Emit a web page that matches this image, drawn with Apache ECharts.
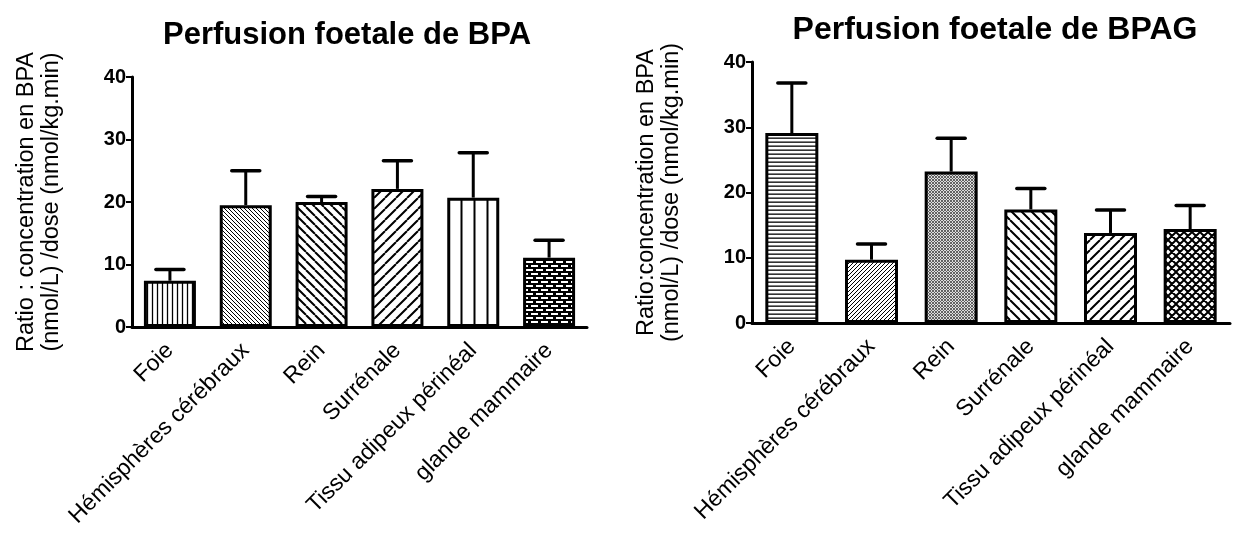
<!DOCTYPE html>
<html>
<head>
<meta charset="utf-8">
<script src="https://cdn.jsdelivr.net/npm/echarts@6/dist/echarts.min.js"></script>
<style>
html,body{margin:0;padding:0;background:#fff;}
#chart{width:1238px;height:533px;}
</style>
</head>
<body>
<div id="chart"></div>
<script>
const categories = ['Foie', 'Hémisphères cérébraux', 'Rein', 'Surrénale', 'Tissu adipeux périnéal', 'glande mammaire'];
const bpaMean = [7.4, 19.5, 20.0, 22.1, 20.7, 11.1];
const bpaErr = [1.8, 5.5, 0.9, 4.5, 7.2, 2.8];
const bpagMean = [29.1, 9.7, 23.2, 17.4, 13.8, 14.4];
const bpagErr = [7.7, 2.4, 5.1, 3.2, 3.5, 3.6];
const yTickValues = [0, 10, 20, 30, 40];
const titleLeft = 'Perfusion foetale de BPA';
const titleRight = 'Perfusion foetale de BPAG';
const yNameLeft = 'Ratio : concentration en BPA\n(nmol/L) /dose (nmol/kg.min)';
const yNameRight = 'Ratio:concentration en BPA\n(nmol/L) /dose (nmol/kg.min)';

const FONT = '"Liberation Sans", Arial, Helvetica, sans-serif';

function tile(w, h, draw, bg) {
  const c = document.createElement('canvas');
  c.width = w; c.height = h;
  const g = c.getContext('2d');
  g.fillStyle = bg || '#fff';
  g.fillRect(0, 0, w, h);
  g.strokeStyle = '#000';
  draw(g, w, h);
  return { image: c, repeat: 'repeat' };
}
function vertical(s, lw) {
  return tile(s, s, (g) => { g.lineWidth = lw; g.beginPath(); g.moveTo(s / 2, 0); g.lineTo(s / 2, s); g.stroke(); });
}
function horizontal(s, lw) {
  return tile(s, s, (g) => { g.lineWidth = lw; g.beginPath(); g.moveTo(0, s / 2); g.lineTo(s, s / 2); g.stroke(); });
}
function diagUp(s, lw, col) {
  return tile(s, s, (g) => {
    g.lineWidth = lw; if (col) g.strokeStyle = col;
    g.beginPath();
    for (let k = -1; k <= 1; k++) { g.moveTo(k * s, s); g.lineTo(k * s + s, 0); }
    g.stroke();
  });
}
function diagDown(s, lw) {
  return tile(s, s, (g) => {
    g.lineWidth = lw; g.beginPath();
    for (let k = -1; k <= 1; k++) { g.moveTo(k * s, 0); g.lineTo(k * s + s, s); }
    g.stroke();
  });
}
function cross(s, lw, col, bg) {
  return tile(s, s, (g) => {
    g.lineWidth = lw; if (col) g.strokeStyle = col;
    g.beginPath();
    for (let k = -1; k <= 1; k++) {
      g.moveTo(k * s, s); g.lineTo(k * s + s, 0);
      g.moveTo(k * s, 0); g.lineTo(k * s + s, s);
    }
    g.stroke();
  }, bg);
}
function brick() {
  return tile(10, 8, (g) => {
    g.fillStyle = '#fff';
    g.fillRect(1, 1, 7, 2);
    g.fillRect(6, 5, 4, 2);
    g.fillRect(0, 5, 3, 2);
  }, '#000');
}

const leftPatterns = [vertical(5, 1.3), diagDown(4, 1), diagDown(9, 2), diagUp(11, 2), vertical(13, 2), brick()];
const rightPatterns = [horizontal(4.3, 1.3), diagUp(4, 1), cross(3, 0.9, '#555', '#ddd'), diagDown(10, 2), diagUp(10, 2), cross(8, 2)];

function errRender(params, api) {
  const i = api.value(0), m = api.value(1), e = api.value(2);
  const p0 = api.coord([i, m]);
  const p1 = api.coord([i, m + e]);
  const hw = 14;
  return {
    type: 'group',
    children: [
      { type: 'line', shape: { x1: p0[0], y1: p0[1], x2: p1[0], y2: p1[1] }, style: { stroke: '#000', lineWidth: 3 } },
      { type: 'line', shape: { x1: p1[0] - hw, y1: p1[1], x2: p1[0] + hw, y2: p1[1] }, style: { stroke: '#000', lineWidth: 3.5, lineCap: 'round' } }
    ]
  };
}

function xAxisDef(idx) {
  return {
    type: 'category', gridIndex: idx, data: categories,
    axisLine: { lineStyle: { color: '#000', width: 3 } },
    axisTick: { alignWithLabel: true, length: 7, lineStyle: { color: '#000', width: 2 } },
    axisLabel: { interval: 0, rotate: 45, margin: 20, color: '#000', fontSize: 23, fontFamily: FONT }
  };
}
function yAxisDef(idx, name) {
  return {
    type: 'value', gridIndex: idx, min: yTickValues[0], max: yTickValues[yTickValues.length - 1], interval: 10,
    name: name, nameLocation: 'middle', nameGap: 68, nameRotate: 90,
    nameTextStyle: { color: '#000', fontSize: 23.5, lineHeight: 25, fontFamily: FONT },
    splitLine: { show: false },
    axisLine: { show: true, lineStyle: { color: '#000', width: 3 } },
    axisTick: { show: true, length: 6, lineStyle: { color: '#000', width: 2 } },
    axisLabel: { color: '#000', fontSize: 20, fontWeight: 'bold', margin: 6, fontFamily: FONT }
  };
}

const chart = echarts.init(document.getElementById('chart'), null, { renderer: 'canvas' });
chart.setOption({
  animation: false,
  backgroundColor: '#fff',
  title: [
    { text: titleLeft, left: 342, top: 15, textAlign: 'center', textStyle: { fontSize: 31, fontWeight: 'bold', color: '#000', fontFamily: FONT } },
    { text: titleRight, left: 990, top: 9, textAlign: 'center', textStyle: { fontSize: 32, fontWeight: 'bold', color: '#000', fontFamily: FONT } }
  ],
  grid: [
    { left: 132, top: 77, width: 455, height: 250 },
    { left: 752, top: 62, width: 478, height: 261 }
  ],
  xAxis: [xAxisDef(0), xAxisDef(1)],
  yAxis: [yAxisDef(0, yNameLeft), yAxisDef(1, yNameRight)],
  series: [
    {
      type: 'bar', xAxisIndex: 0, yAxisIndex: 0, barWidth: 52,
      data: bpaMean.map((v, i) => ({ value: v, itemStyle: { color: leftPatterns[i] } })),
      itemStyle: { borderColor: '#000', borderWidth: 3 }
    },
    {
      type: 'custom', xAxisIndex: 0, yAxisIndex: 0, renderItem: errRender, z: 5,
      data: bpaMean.map((v, i) => [i, v, bpaErr[i]]), encode: { x: 0, y: 1 }
    },
    {
      type: 'bar', xAxisIndex: 1, yAxisIndex: 1, barWidth: 53,
      data: bpagMean.map((v, i) => ({ value: v, itemStyle: { color: rightPatterns[i] } })),
      itemStyle: { borderColor: '#000', borderWidth: 3 }
    },
    {
      type: 'custom', xAxisIndex: 1, yAxisIndex: 1, renderItem: errRender, z: 5,
      data: bpagMean.map((v, i) => [i, v, bpagErr[i]]), encode: { x: 0, y: 1 }
    }
  ]
});
</script>
</body>
</html>
